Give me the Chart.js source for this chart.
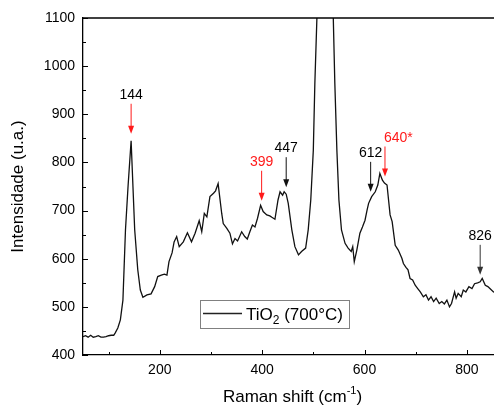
<!DOCTYPE html>
<html>
<head>
<meta charset="utf-8">
<script src="https://cdn.jsdelivr.net/npm/chart.js@4.4.1/dist/chart.umd.min.js"></script>
<style>
  html, body { margin: 0; padding: 0; background: #fff; }
  #wrap { width: 494px; height: 406px; }
</style>
</head>
<body>
<div id="wrap"><canvas id="ramanChart"></canvas></div>
<script>
// Raman spectrum, TiO2 calcined at 700 °C
var shift = [50, 55, 60, 65, 70, 75, 80, 85, 90, 95, 100, 105, 110, 113, 118, 123, 128, 133, 138, 144,
  151, 157, 162, 167, 175, 183, 190, 196, 203, 209, 214, 218, 224, 228, 233, 238, 246, 254, 262, 269,
  277, 282, 287, 292, 298, 305, 309, 314, 321, 324, 331, 337, 342, 347, 352, 360, 366, 371, 376, 381,
  386, 391, 397, 402, 409, 415, 419, 425, 431, 435, 440, 443, 447, 451, 458, 464, 471, 477, 485, 490,
  495, 500, 503, 507, 511, 517, 530, 536, 539, 542, 546, 550, 555, 562, 568, 574, 577, 580, 585, 591,
  596, 601, 605, 608, 614, 621, 626, 630, 635, 639, 644, 647, 650, 654, 660, 666, 673, 676, 681, 685,
  689, 694, 699, 704, 709, 715, 720, 725, 730, 735, 740, 746, 751, 756, 761, 766, 770, 776, 779, 783,
  789, 793, 798, 804, 810, 815, 821, 826, 830, 836, 841, 845, 852, 855];
var intensity = [438, 440, 437, 441, 437, 438, 440, 437, 437, 438, 440, 441, 441, 446, 456, 473, 514, 660, 750, 845,
  660, 577, 535, 520, 525, 527, 542, 563, 566, 568, 566, 594, 612, 635, 646, 625, 635, 654, 635, 653,
  679, 656, 694, 687, 729, 736, 741, 756, 694, 673, 663, 653, 631, 642, 637, 656, 646, 641, 656, 670,
  666, 684, 711, 698, 691, 689, 686, 682, 722, 739, 732, 739, 734, 715, 660, 625, 608, 615, 622, 660,
  722, 826, 965, 1100, 1350, 1600, 1600, 1350, 1100, 965, 826, 722, 660, 632, 622, 615, 625, 594, 618, 653,
  666, 680, 701, 715, 729, 739, 753, 777, 763, 757, 753, 722, 691, 677, 628, 618, 601, 590, 582, 577,
  559, 556, 545, 538, 531, 521, 525, 514, 521, 511, 518, 507, 511, 506, 514, 500, 507, 531, 518, 528,
  521, 535, 531, 542, 538, 548, 550, 552, 559, 545, 542, 538, 531, 530];

var xTicks = [200, 400, 600, 800];
var yTicks = [400, 500, 600, 700, 800, 900, 1000, 1100];

// assigned bands
var peakText = ['144', '399', '447', '612', '640*', '826'];
var peakShift = [144, 399, 447, 612, 640, 826];

var red = '#ff1a1a';
var peakStyle = [
  { text: '#000', arrow: red, align: 'center' },
  { text: red, arrow: red, align: 'center' },
  { text: '#000', arrow: '#111', align: 'center' },
  { text: '#000', arrow: '#111', align: 'center' },
  { text: red, arrow: red, align: 'left' },
  { text: '#000', arrow: '#333', align: 'center' }
];

var FONT = '"Liberation Sans", Arial, sans-serif';

function curveAt(v) {
  for (var i = 0; i < shift.length - 1; i++) {
    if (v >= shift[i] && v <= shift[i + 1]) {
      var t = (v - shift[i]) / (shift[i + 1] - shift[i]);
      return intensity[i] + t * (intensity[i + 1] - intensity[i]);
    }
  }
  return intensity[intensity.length - 1];
}

var decor = {
  id: 'decor',
  afterDraw: function (chart) {
    var ctx = chart.ctx;
    var a = chart.chartArea;
    var xs = chart.scales.x;
    var ys = chart.scales.y;
    ctx.save();

    // top frame line
    ctx.strokeStyle = '#000';
    ctx.lineWidth = 1.3;
    ctx.beginPath();
    ctx.moveTo(a.left, a.top);
    ctx.lineTo(a.right, a.top);
    ctx.stroke();

    // inward ticks, major + minor
    ctx.lineWidth = 1;
    ctx.beginPath();
    for (var v = 100; v <= 800; v += 100) {
      var px = Math.round(xs.getPixelForValue(v)) + 0.5;
      var len = v % 200 === 0 ? 5 : 3;
      ctx.moveTo(px, a.bottom);
      ctx.lineTo(px, a.bottom - len);
    }
    for (var w = 400; w <= 1100; w += 50) {
      var py = Math.round(ys.getPixelForValue(w)) + 0.5;
      var l2 = w % 100 === 0 ? 5 : 3;
      ctx.moveTo(a.left, py);
      ctx.lineTo(a.left + l2, py);
    }
    ctx.stroke();

    // peak markers
    for (var i = 0; i < peakShift.length; i++) {
      var st = peakStyle[i];
      var ax = xs.getPixelForValue(peakShift[i]);
      var tip = ys.getPixelForValue(curveAt(peakShift[i])) - 7;
      var top = tip - 30;
      ctx.strokeStyle = st.arrow;
      ctx.fillStyle = st.arrow;
      ctx.lineWidth = 1;
      ctx.beginPath();
      ctx.moveTo(ax, top);
      ctx.lineTo(ax, tip - 6);
      ctx.stroke();
      ctx.beginPath();
      ctx.moveTo(ax - 3, tip - 8);
      ctx.lineTo(ax + 3, tip - 8);
      ctx.lineTo(ax, tip);
      ctx.closePath();
      ctx.fill();
      ctx.fillStyle = st.text;
      ctx.font = '14px ' + FONT;
      ctx.textAlign = st.align;
      ctx.textBaseline = 'alphabetic';
      ctx.fillText(peakText[i], st.align === 'left' ? ax - 1 : ax, top - 5);
    }

    // x axis title with superscript
    ctx.fillStyle = '#000';
    ctx.textAlign = 'left';
    var base = 'Raman shift (cm';
    ctx.font = '17px ' + FONT;
    var w1 = ctx.measureText(base).width;
    var w3 = ctx.measureText(')').width;
    ctx.font = '11px ' + FONT;
    var w2 = ctx.measureText('-1').width;
    var x0 = (a.left + a.right) / 2 + 4 - (w1 + w2 + w3) / 2;
    var yb = 402;
    ctx.font = '17px ' + FONT;
    ctx.fillText(base, x0, yb);
    ctx.font = '11px ' + FONT;
    ctx.fillText('-1', x0 + w1, yb - 8);
    ctx.font = '17px ' + FONT;
    ctx.fillText(')', x0 + w1 + w2, yb);

    // legend box
    var lx = a.left + 117, ly = a.top + 282, lw = 149, lh = 28;
    ctx.strokeStyle = '#808080';
    ctx.lineWidth = 1;
    ctx.strokeRect(lx + 0.5, ly + 0.5, lw, lh);
    ctx.strokeStyle = '#222';
    ctx.lineWidth = 1.3;
    ctx.beginPath();
    ctx.moveTo(lx + 3, ly + 13.5);
    ctx.lineTo(lx + 42, ly + 13.5);
    ctx.stroke();
    var tx = lx + 46, tb = ly + 20;
    ctx.fillStyle = '#000';
    ctx.font = '17px ' + FONT;
    ctx.fillText('TiO', tx, tb);
    tx += ctx.measureText('TiO').width;
    ctx.font = '12px ' + FONT;
    ctx.fillText('2', tx, tb + 4);
    tx += ctx.measureText('2').width;
    ctx.font = '17px ' + FONT;
    ctx.fillText(' (700°C)', tx, tb);

    ctx.restore();
  }
};

var ramanCanvas = document.getElementById('ramanChart');
var ramanChart = new Chart(ramanCanvas, {
  type: 'line',
  data: {
    datasets: [{
      label: 'TiO2 (700°C)',
      data: shift.map(function (s, i) { return { x: s, y: intensity[i] }; }),
      borderColor: '#111',
      borderWidth: 1.3,
      pointRadius: 0,
      fill: false,
      tension: 0
    }]
  },
  options: {
    responsive: true,
    maintainAspectRatio: false,
    animation: false,
    layout: { padding: { top: 18, right: 0, left: 0, bottom: 0 } },
    plugins: {
      legend: { display: false },
      tooltip: { enabled: false }
    },
    scales: {
      x: {
        type: 'linear',
        min: 50,
        max: 853,
        grid: { display: false, drawTicks: false },
        border: { display: true, color: '#000', width: 1.3 },
        ticks: {
          color: '#000',
          padding: 7,
          font: { family: FONT, size: 14 },
          callback: function (v) { return String(v); }
        },
        afterBuildTicks: function (s) { s.ticks = xTicks.map(function (v) { return { value: v }; }); },
        afterFit: function (s) { s.height = 51; }
      },
      y: {
        min: 400,
        max: 1100,
        grid: { display: false, drawTicks: false },
        border: { display: true, color: '#000', width: 1.3 },
        ticks: {
          color: '#000',
          padding: 8,
          font: { family: FONT, size: 14 },
          callback: function (v) { return String(v); }
        },
        title: {
          display: true,
          text: 'Intensidade (u.a.)',
          color: '#000',
          font: { family: FONT, size: 17 },
          padding: { top: 8, bottom: 0 }
        },
        afterBuildTicks: function (s) { s.ticks = yTicks.map(function (v) { return { value: v }; }); },
        afterFit: function (s) { s.width = 83; }
      }
    }
  },
  plugins: [decor]
});
</script>
</body>
</html>
